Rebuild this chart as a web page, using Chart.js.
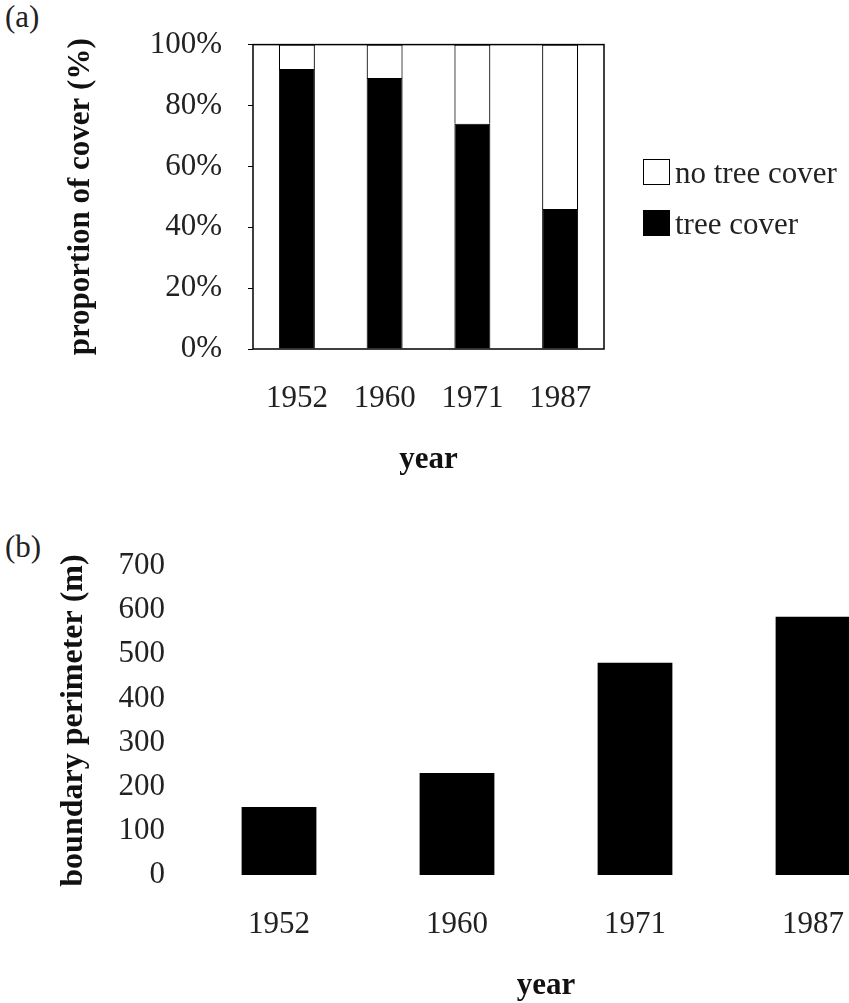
<!DOCTYPE html>
<html>
<head>
<meta charset="utf-8">
<script src="https://cdn.jsdelivr.net/npm/chart.js@4.4.1/dist/chart.umd.min.js"></script>
<style>
  html, body { margin: 0; padding: 0; background: #fff; overflow: hidden; }
  body { width: 849px; height: 1003px; position: relative; font-family: "Liberation Serif", "Times New Roman", serif; }
  canvas { position: absolute; left: 0; }
  #coverChart { top: 0; }
  #perimeterChart { top: 520px; }
  .panel { position: absolute; left: 5px; font-size: 31px; line-height: 31px; color: #222; }
  .legend-item { position: absolute; left: 643px; height: 31px; display: flex; align-items: center;
                 font-size: 31px; line-height: 31px; color: #222; white-space: nowrap; }
  .swatch { width: 27px; height: 26px; box-sizing: border-box; border: 1px solid #000; margin-right: 5px; }
</style>
</head>
<body>
<div class="panel" style="top:1px">(a)</div>
<div class="panel" style="top:531px">(b)</div>
<canvas id="coverChart" width="849" height="500"></canvas>
<canvas id="perimeterChart" width="910" height="485"></canvas>
<div id="legend"></div>
<script>
// Survey years and measurements
const years = ['1952', '1960', '1971', '1987'];
const treeCover = [92, 89, 74, 46];      // % of area under tree cover
const noTreeCover = [8, 11, 26, 54];     // % of area without tree cover
const perimeter = [154, 231, 481, 585];  // boundary perimeter, m

const SERIF = "'Liberation Serif', 'Times New Roman', serif";
Chart.defaults.font.family = SERIF;
Chart.defaults.color = '#222';

// Outline the whole plotting area of panel (a)
const frame = {
  id: 'frame',
  afterDatasetsDraw(chart) {
    const { ctx, chartArea: a } = chart;
    ctx.save();
    ctx.strokeStyle = '#000';
    ctx.lineWidth = 1.5;
    ctx.strokeRect(a.left, a.top, a.right - a.left, a.bottom - a.top);
    ctx.restore();
  }
};

// (a) proportion of cover, stacked to 100%
const coverChart = new Chart(document.getElementById('coverChart'), {
  type: 'bar',
  data: {
    labels: years,
    datasets: [
      { label: 'tree cover', data: treeCover, backgroundColor: '#000', borderColor: '#000', borderWidth: 1 },
      { label: 'no tree cover', data: noTreeCover, backgroundColor: '#fff', borderColor: '#000', borderWidth: 1.2 }
    ]
  },
  options: {
    responsive: false,
    animation: false,
    devicePixelRatio: 1,
    layout: { padding: { top: 43, right: 245, left: 0, bottom: 0 } },
    datasets: { bar: { categoryPercentage: 1, barPercentage: 0.41 } },
    plugins: { legend: { display: false }, tooltip: { enabled: false } },
    scales: {
      x: {
        stacked: true,
        grid: { display: false, drawTicks: false },
        border: { display: false },
        ticks: { padding: 31, font: { size: 31 }, color: '#222' },
        title: { display: true, text: 'year', color: '#111', font: { size: 31, weight: 'bold' }, padding: { top: 0, bottom: 21 } },
        afterFit(s) { s.height = 151; }
      },
      y: {
        stacked: true,
        min: 0,
        max: 100,
        ticks: { stepSize: 20, padding: 26, font: { size: 31 }, color: '#222', callback: v => v + '%' },
        grid: { drawOnChartArea: false, tickLength: 5, color: '#000' },
        border: { display: false },
        title: { display: true, text: 'proportion of cover (%)', color: '#111', font: { size: 31, weight: 'bold' }, padding: { top: 62, bottom: 0 } },
        afterFit(s) { s.width = 253; }
      }
    }
  },
  plugins: [frame]
});

// Legend for panel (a), listed top-down as the stack reads
const legendRows = [172, 223];
coverChart.data.datasets.slice().reverse().forEach((ds, i) => {
  const item = document.createElement('div');
  item.className = 'legend-item';
  item.style.top = (legendRows[i] - 15.5) + 'px';
  const sw = document.createElement('span');
  sw.className = 'swatch';
  sw.style.background = ds.backgroundColor;
  item.appendChild(sw);
  item.appendChild(document.createTextNode(ds.label));
  document.getElementById('legend').appendChild(item);
});

// (b) boundary perimeter
new Chart(document.getElementById('perimeterChart'), {
  type: 'bar',
  data: {
    labels: years,
    datasets: [
      { label: 'boundary perimeter (m)', data: perimeter, backgroundColor: '#000', borderWidth: 0 }
    ]
  },
  options: {
    responsive: false,
    animation: false,
    devicePixelRatio: 1,
    layout: { padding: { top: 46, right: 8, left: 0, bottom: 0 } },
    datasets: { bar: { categoryPercentage: 1, barPercentage: 0.42 } },
    plugins: { legend: { display: false }, tooltip: { enabled: false } },
    scales: {
      x: {
        grid: { display: false, drawTicks: false },
        border: { display: false },
        ticks: { padding: 31, font: { size: 31 }, color: '#222' },
        title: { display: true, text: 'year', color: '#111', font: { size: 31, weight: 'bold' }, padding: { top: 0, bottom: 0 } },
        afterFit(s) { s.height = 130; }
      },
      y: {
        min: 0,
        max: 700,
        ticks: { stepSize: 100, padding: 25, font: { size: 31 }, color: '#222' },
        grid: { display: false, drawTicks: false },
        border: { display: false },
        title: { display: true, text: 'boundary perimeter (m)', color: '#111', font: { size: 32, weight: 'bold' }, padding: { top: 55, bottom: 0 } },
        afterFit(s) { s.width = 190; }
      }
    }
  }
});
</script>
</body>
</html>
